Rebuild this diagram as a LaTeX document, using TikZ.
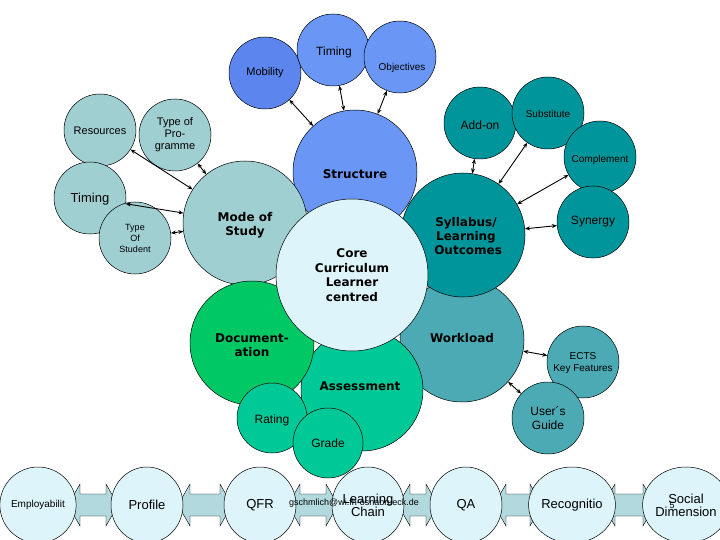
\documentclass[tikz,border=0pt]{standalone}
\usepackage{fontspec}
\setmainfont{Liberation Sans}
\newfontfamily\vb{DejaVu Sans}[FakeBold=0]
\usetikzlibrary{arrows.meta}
\definecolor{cblue}{HTML}{6A97F5}
\definecolor{cblue2}{HTML}{5C86EE}
\definecolor{clt}{HTML}{A0CFD2}
\definecolor{cteal}{HTML}{00959A}
\definecolor{cwork}{HTML}{4BAAB3}
\definecolor{cdoc}{HTML}{00C864}
\definecolor{cass}{HTML}{00C896}
\definecolor{ccore}{HTML}{DCF4FA}
\definecolor{carr}{HTML}{B2D9DD}
\tikzset{
 circ/.style={circle,draw=black,line width=0.5pt,inner sep=0pt,minimum size=#1},
 small/.style={circ=72pt,font=\fontsize{11}{12}\selectfont,align=center},
 big/.style={circ=124pt,font=\vb\bfseries\fontsize{13}{15}\selectfont,align=center},
 lnk/.style={{Stealth[length=5pt,width=4pt]}-{Stealth[length=5pt,width=4pt]},line width=0.9pt},
 ell/.style={ellipse,draw=black,fill=ccore,line width=0.5pt,minimum width=72pt,minimum height=76pt,inner sep=0pt,font=\fontsize{13}{13}\selectfont,align=center},
 blk/.style={fill=carr,draw=black,line width=0.4pt}
}
\usetikzlibrary{shapes.geometric}
\newcommand\blockarr[2]{%
 \draw[blk] (#1,505) -- (#1+12,484) -- (#1+12,494) -- (#2-12,494) -- (#2-12,484) -- (#2,505) -- (#2-12,526) -- (#2-12,516) -- (#1+12,516) -- (#1+12,526) -- cycle;}
\begin{document}
\begin{tikzpicture}[x=1pt,y=-1pt]
\useasboundingbox (0,0) rectangle (720,540);
% top blue
\node[small,fill=cblue2] (mob) at (265,73) {Mobility};
\node[small,fill=cblue] (tim) at (333,50) {};
\node[font=\fontsize{12}{12}\selectfont] at (334,52) {Timing};
\node[small,fill=cblue] (obj) at (400,57) {};
\node[font=\fontsize{10}{10}\selectfont] at (402,68) {Objectives};
% left
\node[small,fill=clt] (res) at (100,130) {};
\node[small,fill=clt] (tpr) at (175,135) {Type of\\Pro-\\gramme};
\node[font=\fontsize{11}{11}\selectfont] at (100,131) {Resources};
\node[small,fill=clt] (tml) at (90,198) {};
\node[font=\fontsize{13}{13}\selectfont] at (90,199) {Timing};
\node[small,fill=clt,font=\fontsize{9}{11}\selectfont] (tst) at (135,238) {Type\\Of\\Student};
% right
\node[small,fill=cteal] (add) at (480,123) {};
\node[font=\fontsize{12}{12}\selectfont] at (480,125) {Add-on};
\node[small,fill=cteal] (sub) at (548,113) {};
\node[font=\fontsize{10}{10}\selectfont] at (548,114) {Substitute};
\node[small,fill=cteal] (com) at (600,157) {};
\node[font=\fontsize{10}{10}\selectfont] at (600,160) {Complement};
\node[small,fill=cteal,font=\fontsize{12}{12}\selectfont] (syn) at (593,222) {Synergy};
\node[small,fill=cwork] (ects) at (583,362) {};
\node[font=\fontsize{10}{12}\selectfont,align=center] at (583,363) {ECTS\\Key Features};
\node[small,fill=cwork,font=\fontsize{12}{14}\selectfont] (ug) at (548,418) {User´s\\Guide};
% big
\node[big,fill=cblue] (str) at (355,172) {};
\node[font=\vb\bfseries\fontsize{12}{12}\selectfont] at (355,174) {Structure};
\node[big,fill=clt] (mode) at (245,223) {};
\node[font=\vb\bfseries\fontsize{12}{14}\selectfont,align=center] at (245,225) {Mode of\\Study};
\node[big,fill=cwork] (work) at (462,340) {};
\node[font=\vb\bfseries\fontsize{12}{12}\selectfont] at (462,338) {Workload};
\node[big,fill=cteal] (syl) at (463,235) {};
\node[font=\vb\bfseries\fontsize{12}{14}\selectfont,align=center] at (466,236) {Syllabus/\\Learning\\\ Outcomes};
\node[big,fill=cass,minimum size=122pt] (ass) at (362,390) {};
\node[big,fill=cdoc] (doc) at (252,343) {};
\node[font=\vb\bfseries\fontsize{12}{14}\selectfont,align=center] at (252,345) {Document-\\ation};
\node[font=\vb\bfseries\fontsize{12}{12}\selectfont] at (360,386) {Assessment};
\node[small,fill=cass,minimum size=70pt] (rat) at (272,418) {};
\node[font=\fontsize{12}{12}\selectfont] at (272,420) {Rating};
\node[small,fill=cass,minimum size=70pt] (gra) at (328,443) {};
\node[font=\fontsize{12}{12}\selectfont] at (328,443) {Grade};
\node[circ=152pt,fill=ccore,font=\vb\bfseries\fontsize{12}{14.5}\selectfont,align=center] (core) at (352,275) {Core\\Curriculum\\Learner\\centred};
% links
\draw[lnk] (mob) -- (str);
\draw[lnk] (tim) -- (str);
\draw[lnk] (obj) -- (str);
\draw[lnk] (res) -- (mode);
\draw[lnk] (tml) -- (mode);
\draw[lnk] (tst) -- (mode);
\draw[lnk] (tpr) -- (mode);
\draw[lnk] (add) -- (syl);
\draw[lnk] (sub) -- (syl);
\draw[lnk] (com) -- (syl);
\draw[lnk] (syn) -- (syl);
\draw[lnk] (work) -- (ects);
\draw[lnk] (work) -- (ug);
% bottom row
\blockarr{68}{118}
\blockarr{178}{232}
\blockarr{288}{338}
\blockarr{398}{438}
\blockarr{494}{542}
\blockarr{603}{655}
\node[ell,font=\fontsize{10}{10}\selectfont] (e1) at (38,505) {Employabilit};
\node[ell] (e2) at (147,505) {Profile};
\node[ell] (e3) at (260,505) {QFR};
\node[ell] (e4) at (368,505) {Learning\\Chain};
\node[ell] (e5) at (466,505) {QA};
\node[ell] (e6) at (572,505) {Recognitio};
\node[ell] (e7) at (686,505) {Social\\Dimension};
\node[font=\fontsize{9}{9}\selectfont] (mail) at (354,503) {gschmlich@wi.fh-osnabrueck.de};
\node[font=\fontsize{9}{9}\selectfont] (pg) at (672,505) {5};
\end{tikzpicture}
\end{document}
